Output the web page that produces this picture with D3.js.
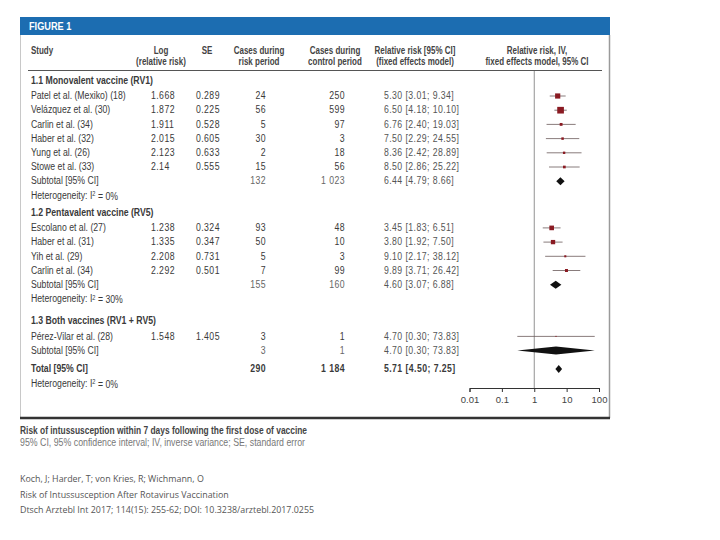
<!DOCTYPE html>
<html>
<head>
<meta charset="utf-8">
<script src="https://cdn.jsdelivr.net/npm/d3@7"></script>
<style>
  body { margin: 0; background: #fff; }
  svg text { font-family: "Liberation Sans", Arial, sans-serif; }
  svg text.foot { font-family: "Open Sans", sans-serif; }
</style>
</head>
<body>
<div id="chart"></div>
<script>
// data
const groupLabels = ["1.1 Monovalent vaccine (RV1)", "1.2 Pentavalent vaccine (RV5)", "1.3 Both vaccines (RV1 + RV5)"];
const studyNames = ["Patel et al. (Mexiko) (18)", "Velázquez et al. (30)", "Carlin et al. (34)", "Haber et al. (32)",
  "Yung et al. (26)", "Stowe et al. (33)", "Escolano et al. (27)", "Haber et al. (31)", "Yih et al. (29)",
  "Carlin et al. (34)", "Pérez-Vilar et al. (28)"];
const studyGroup = [0, 0, 0, 0, 0, 0, 1, 1, 1, 1, 2];
const logRR = [1.668, 1.872, 1.911, 2.015, 2.123, 2.14, 1.238, 1.335, 2.208, 2.292, 1.548];
const seLog = [0.289, 0.225, 0.528, 0.605, 0.633, 0.555, 0.324, 0.347, 0.731, 0.501, 1.405];
const casesRisk = [24, 56, 5, 30, 2, 15, 93, 50, 5, 7, 3];
const casesControl = [250, 599, 97, 3, 18, 56, 48, 10, 3, 99, 1];
const rr = [5.30, 6.50, 6.76, 7.50, 8.36, 8.50, 3.45, 3.80, 9.10, 9.89, 4.70];
const rrLo = [3.01, 4.18, 2.40, 2.29, 2.42, 2.86, 1.83, 1.92, 2.17, 3.71, 0.30];
const rrHi = [9.34, 10.10, 19.03, 24.55, 28.89, 25.22, 6.51, 7.50, 38.12, 26.42, 73.83];
const subCasesRisk = [132, 155, 3];
const subCasesControl = [1023, 160, 1];
const subRR = [6.44, 4.60, 4.70];
const subLo = [4.79, 3.07, 0.30];
const subHi = [8.66, 6.88, 73.83];
const subHet = ["0%", "30%", null];
const totalCases = [290, 1184];
const totalRR = [5.71, 4.50, 7.25];
const totalHet = "0%";
const axisTicks = [0.01, 0.1, 1, 10, 100];

const W = 720, H = 540;
const svg = d3.select("#chart").append("svg").attr("width", W).attr("height", H);
svg.append("rect").attr("width", W).attr("height", H).attr("fill", "#fff");

const txtCol = "#3a3a3a";
const fmtInt = d3.formatLocale({decimal: ".", thousands: " ", grouping: [3], currency: ["", ""]}).format(",d");
const fmt2 = d3.format(".2f");
const rrText = (m, l, h) => fmt2(m) + " [" + fmt2(l) + "; " + fmt2(h) + "]";

// the figure uses a condensed face -> squeeze normal text horizontally
function narrow(parent, k) {
  const g = parent.append("g").attr("transform", `scale(${k},1)`);
  g.k = k;
  return g;
}

// frame
const fig = narrow(svg, 0.8);
svg.append("rect").attr("x", 20).attr("y", 17).attr("width", 590).attr("height", 18).attr("fill", "#1c6db1");
fig.append("text").attr("x", 29 / fig.k).attr("y", 30.5).attr("fill", "#fff").style("font-size", "11.5px")
  .style("font-weight", "bold").text("FIGURE 1");
fig.raise();
svg.append("line").attr("x1", 20.5).attr("x2", 20.5).attr("y1", 35).attr("y2", 418).attr("stroke", "#c8c8c8");
svg.append("line").attr("x1", 609.5).attr("x2", 609.5).attr("y1", 35).attr("y2", 418).attr("stroke", "#9a9a9a").attr("stroke-width", 1.5);
svg.append("line").attr("x1", 20).attr("x2", 610).attr("y1", 418).attr("y2", 418).attr("stroke", "#333").attr("stroke-width", 2.5);

// column positions
const col = {study: 31, log: 151, se: 196, cr: 266, cc: 345, rr: 384};
const x = d3.scaleLog().domain([0.01, 100]).range([469.5, 599]);

// header
const head = narrow(svg, 0.8).attr("fill", "#444").style("font-size", "10px").style("font-weight", "bold");
function head2(cx, a, b, anchor) {
  head.append("text").attr("x", cx / head.k).attr("y", 54).attr("text-anchor", anchor || "middle").text(a);
  if (b) head.append("text").attr("x", cx / head.k).attr("y", 65).attr("text-anchor", anchor || "middle").text(b);
}
head2(col.study, "Study", null, "start");
head2(161, "Log", "(relative risk)");
head2(207, "SE");
head2(259, "Cases during", "risk period");
head2(335, "Cases during", "control period");
head2(415, "Relative risk [95% CI]", "(fixed effects model)");
head2(537, "Relative risk, IV,", "fixed effects model, 95% CI");
svg.append("line").attr("x1", 28).attr("x2", 602).attr("y1", 70.5).attr("y2", 70.5).attr("stroke", "#555").attr("stroke-width", 1);

// build rows
const rows = [];
groupLabels.forEach((g, gi) => {
  rows.push({type: "group", label: g, gi});
  studyNames.forEach((n, i) => { if (studyGroup[i] === gi) rows.push({type: "study", i}); });
  rows.push({type: "sub", gi});
  if (subHet[gi] !== null) rows.push({type: "het", het: subHet[gi]});
});
rows.push({type: "total"});
rows.push({type: "het", het: totalHet});

// vertical spacing (layout only)
const groupGap = [0, 17, 22];
let yy = 80.5;
rows.forEach((r, k) => {
  if (k > 0) {
    const prev = rows[k - 1];
    if (r.type === "group") yy += groupGap[r.gi];
    else if (r.type === "total") yy += 18.5;
    else if (prev.type === "group") yy += 15.5;
    else yy += 14.2;
  }
  r.y = yy;
});

// reference line at RR = 1
svg.append("line").attr("x1", x(1)).attr("x2", x(1)).attr("y1", 71).attr("y2", 388).attr("stroke", "#777").attr("stroke-width", 0.8);

const body = narrow(svg, 0.87).style("font-size", "10px").attr("fill", txtCol);
function cell(r, xx, t, anchor, opts) {
  const el = body.append("text").attr("x", xx / body.k).attr("y", r.y).attr("dominant-baseline", "central")
    .attr("text-anchor", anchor || "start").text(t);
  if (opts && opts.bold) el.style("font-weight", "bold");
  if (opts && opts.fill) el.attr("fill", opts.fill);
  if (opts && opts.num) el.style("letter-spacing", "0.5px");
  return el;
}

const plot = svg.append("g");
const dia = (y, m, l, h, hh) => `M${x(l)},${y} L${x(m)},${y - hh} L${x(h)},${y} L${x(m)},${y + hh} Z`;

rows.forEach(r => {
  if (r.type === "group") {
    cell(r, col.study, r.label, "start", {bold: true});
  } else if (r.type === "study") {
    const i = r.i;
    cell(r, col.study, studyNames[i]);
    cell(r, col.log, String(logRR[i]), "start", {num: true});
    cell(r, col.se, String(seLog[i]), "start", {num: true});
    cell(r, col.cr, fmtInt(casesRisk[i]), "end", {num: true});
    cell(r, col.cc, fmtInt(casesControl[i]), "end", {num: true});
    cell(r, col.rr, rrText(rr[i], rrLo[i], rrHi[i]), "start", {fill: "#555", num: true});
    plot.append("line").attr("x1", x(rrLo[i])).attr("x2", x(rrHi[i])).attr("y1", r.y).attr("y2", r.y)
      .attr("stroke", "#6b5a5a").attr("stroke-width", 0.8);
    const s = 1.5 * Math.sqrt(1 / (seLog[i] * seLog[i]));
    plot.append("rect").attr("x", x(rr[i]) - s / 2).attr("y", r.y - s / 2).attr("width", s).attr("height", s)
      .attr("fill", "#8a1a22");
  } else if (r.type === "sub") {
    const gi = r.gi;
    cell(r, col.study, "Subtotal [95% CI]");
    cell(r, col.cr, fmtInt(subCasesRisk[gi]), "end", {fill: "#666", num: true});
    cell(r, col.cc, fmtInt(subCasesControl[gi]), "end", {fill: "#666", num: true});
    cell(r, col.rr, rrText(subRR[gi], subLo[gi], subHi[gi]), "start", {fill: "#555", num: true});
    plot.append("path").attr("d", dia(r.y, subRR[gi], subLo[gi], subHi[gi], 4)).attr("fill", "#111");
  } else if (r.type === "het") {
    const t = cell(r, col.study, "Heterogeneity: I");
    t.append("tspan").attr("dy", "-0.35em").style("font-size", "6.5px").text("2");
    t.append("tspan").attr("dy", "0.35em").text(" = " + r.het);
  } else if (r.type === "total") {
    cell(r, col.study, "Total [95% CI]", "start", {bold: true});
    cell(r, col.cr, fmtInt(totalCases[0]), "end", {bold: true, num: true});
    cell(r, col.cc, fmtInt(totalCases[1]), "end", {bold: true, num: true});
    cell(r, col.rr, rrText(totalRR[0], totalRR[1], totalRR[2]), "start", {bold: true, num: true});
    plot.append("path").attr("d", dia(r.y, totalRR[0], totalRR[1], totalRR[2], 4)).attr("fill", "#111");
  }
});

// axis
const ax = svg.append("g").attr("transform", "translate(0,388)")
  .call(d3.axisBottom(x).tickValues(axisTicks).tickSize(4).tickPadding(4).tickFormat(d => String(d)));
ax.select(".domain").attr("stroke", "#333");
ax.selectAll(".tick line").attr("stroke", "#333");
ax.selectAll(".tick text").attr("fill", "#444").style("font-size", "9.5px")
  .style("font-family", "'Liberation Sans', Arial, sans-serif");

// caption
const cap1 = narrow(svg, 0.84);
cap1.append("text").attr("x", 20 / cap1.k).attr("y", 434).attr("fill", "#444").style("font-size", "10px").style("font-weight", "bold")
  .text("Risk of intussusception within 7 days following the first dose of vaccine");
const cap2 = narrow(svg, 0.88);
cap2.append("text").attr("x", 20 / cap2.k).attr("y", 446).attr("fill", "#777").style("font-size", "10px")
  .text("95% CI, 95% confidence interval; IV, inverse variance; SE, standard error");

// source lines
const foot = ["Koch, J; Harder, T; von Kries, R; Wichmann, O",
  "Risk of Intussusception After Rotavirus Vaccination",
  "Dtsch Arztebl Int 2017; 114(15): 255-62; DOI: 10.3238/arztebl.2017.0255"];
svg.selectAll("text.foot").data(foot).join("text").attr("class", "foot")
  .attr("x", 20).attr("y", (d, i) => 482 + i * 15.5).attr("fill", "#555").style("font-size", "8.9px").text(d => d);
</script>
</body>
</html>
